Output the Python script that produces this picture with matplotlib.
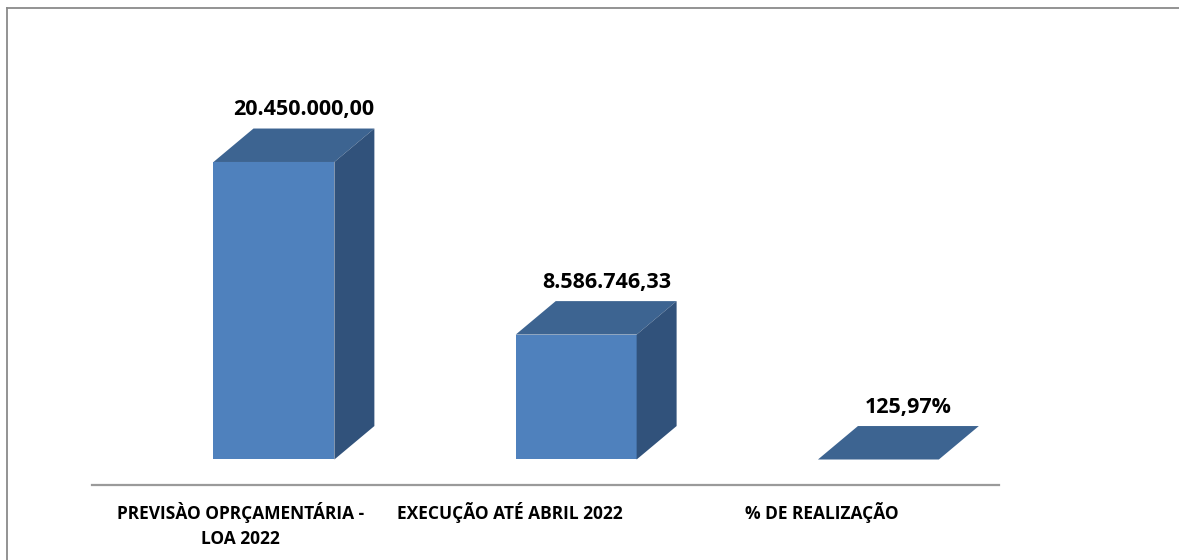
import matplotlib
matplotlib.use("Agg")
import matplotlib.pyplot as plt
from matplotlib.patches import Polygon

plt.rcParams['font.family'] = ['Open Sans', 'DejaVu Sans']

categories = ["PREVISÀO OPRÇAMENTÁRIA -\nLOA 2022", "EXECUÇÃO ATÉ ABRIL 2022", "% DE REALIZAÇÃO"]
values = [20450000.00, 8586746.33, 1.2597]
value_labels = ["20.450.000,00", "8.586.746,33", "125,97%"]

front_color = "#4f81bd"
top_color = "#3d6491"
side_color = "#31527b"

fig = plt.figure(figsize=(11.79, 5.6), dpi=100)
ax = fig.add_axes([92 / 1179, 75 / 560, 907 / 1179, 425 / 560])
ax.set_xlim(-0.602, 2.399)
ax.set_ylim(-1.753e6, 27.46e6)

width = 0.40
dx = 0.1323        # depth of the 3d box, in x units
dy = 2.30e6        # depth of the 3d box, in y units

for i, v in enumerate(values):
    x0, x1 = i - width / 2, i + width / 2
    ax.bar(i, v, width=width, color=front_color, linewidth=0, zorder=2)
    top = Polygon([(x0, v), (x1, v), (x1 + dx, v + dy), (x0 + dx, v + dy)],
                  closed=True, facecolor=top_color, linewidth=0, zorder=3)
    side = Polygon([(x1, 0), (x1 + dx, dy), (x1 + dx, v + dy), (x1, v)],
                   closed=True, facecolor=side_color, linewidth=0, zorder=3)
    ax.add_patch(top)
    ax.add_patch(side)
    ax.annotate(value_labels[i], (i + 0.10, v + dy), xytext=(0, 9.5),
                textcoords="offset points", ha="center", va="baseline",
                fontsize=15.5, fontweight="bold", color="black")

tick_pos = [-0.112, 0.781, 1.813]
ax.set_xticks(tick_pos)
ax.set_xticklabels(categories)
for lbl in ax.get_xticklabels():
    lbl.set_fontsize(12.5)
    lbl.set_fontweight("bold")
    lbl.set_linespacing(1.55)
ax.tick_params(axis="x", length=0, pad=12)
ax.set_yticks([])

for s in ["top", "right", "left"]:
    ax.spines[s].set_visible(False)
ax.spines["bottom"].set_color("#9a9a9a")
ax.spines["bottom"].set_linewidth(1.6)

# outer frame (top and left edges of the chart area)
fig.add_artist(plt.Line2D([7 / 1179, 1.0], [1 - 8 / 560, 1 - 8 / 560],
                          transform=fig.transFigure, color="#8a8a8a", linewidth=1.3))
fig.add_artist(plt.Line2D([7 / 1179, 7 / 1179], [0, 1 - 8 / 560],
                          transform=fig.transFigure, color="#8a8a8a", linewidth=1.3))

fig.savefig("out.png", dpi=100)
